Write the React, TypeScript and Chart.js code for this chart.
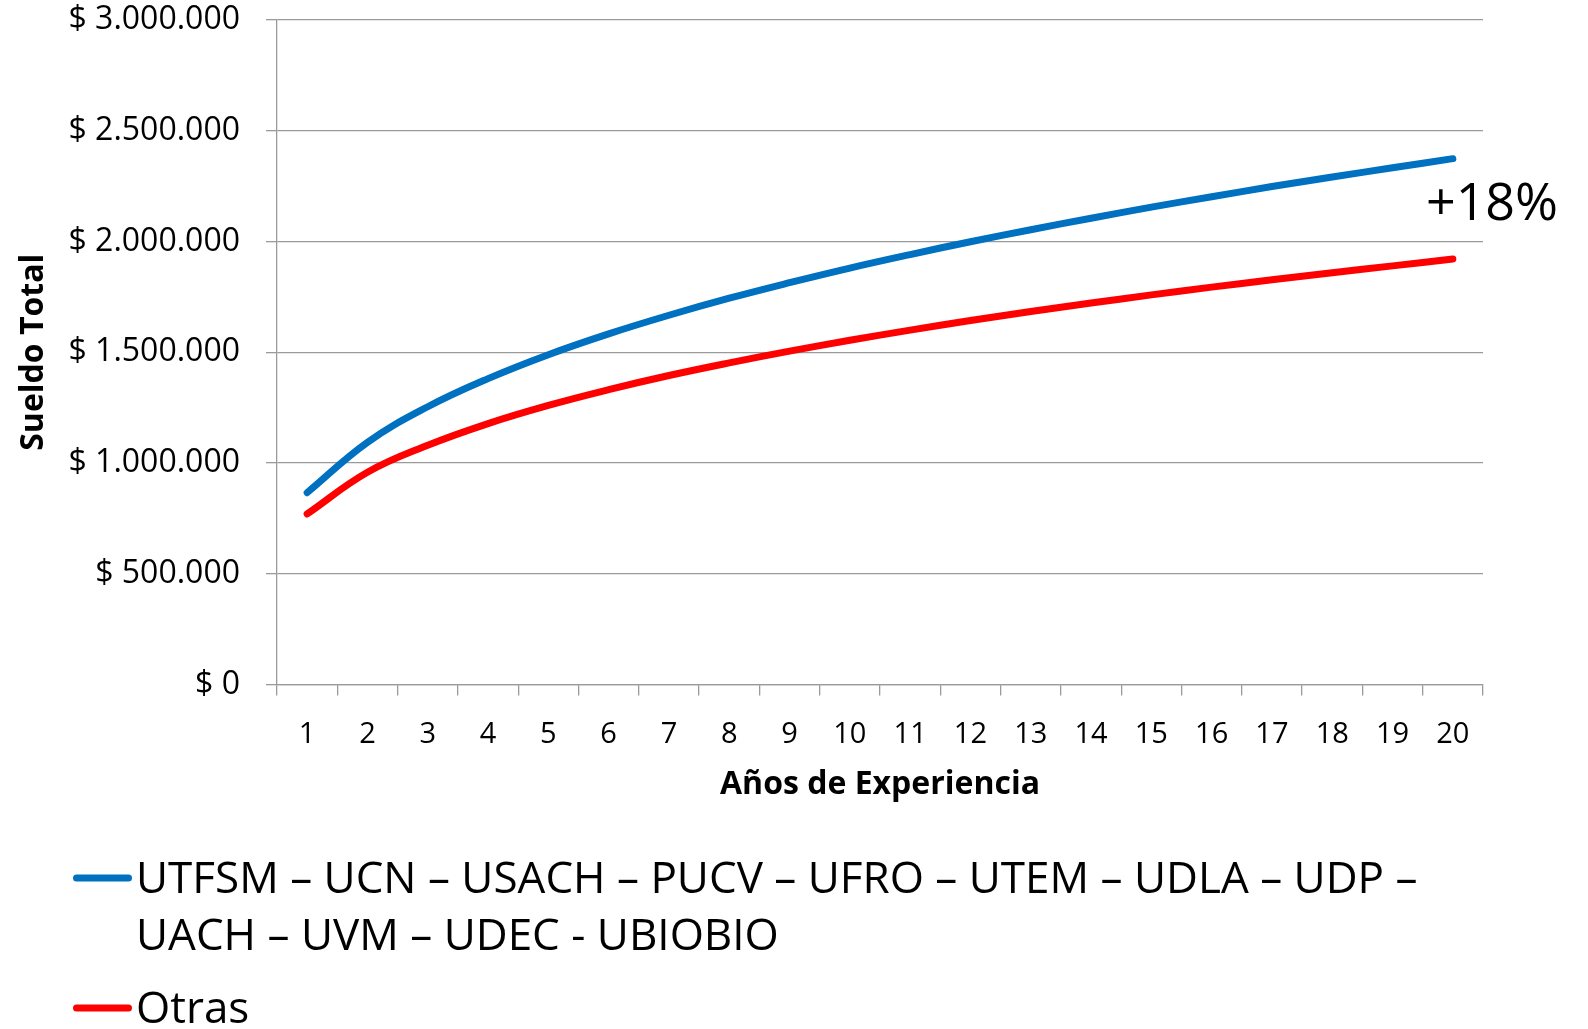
import { useEffect, useRef } from "react";
import { Chart, registerables } from "chart.js";

Chart.register(...registerables);

// ---- data ----
const years = ["1", "2", "3", "4", "5", "6", "7", "8", "9", "10", "11", "12", "13", "14", "15", "16", "17", "18", "19", "20"];
const grupoLabel = "UTFSM – UCN – USACH – PUCV – UFRO – UTEM – UDLA – UDP – UACH – UVM – UDEC - UBIOBIO";
const grupoValues = [866000, 1093000, 1254000, 1381000, 1489000, 1583000, 1667000, 1744000, 1814000, 1880000, 1941000, 1999000, 2053000, 2105000, 2155000, 2202000, 2248000, 2291000, 2333000, 2374000];
const otrasLabel = "Otras";
const otrasValues = [770000, 958000, 1080000, 1178000, 1260000, 1331000, 1395000, 1452000, 1505000, 1554000, 1600000, 1643000, 1684000, 1722000, 1759000, 1794000, 1827000, 1859000, 1890000, 1921000];
const yMin = 0;
const yMax = 3000000;
const yStep = 500000;
const xTitle = "Años de Experiencia";
const yTitle = "Sueldo Total";
const annotationText = "+18%";

const FONT = "'Open Sans', 'Noto Sans', sans-serif";
const GRID = "#9a9a9a";

const fmt = (v: number) => "$ " + String(Math.round(v)).replace(/\B(?=(\d{3})+(?!\d))/g, ".");

function wrapText(ctx: CanvasRenderingContext2D, text: string, maxWidth: number): string[] {
  const words = text.split(" ");
  const lines: string[] = [];
  let cur = "";
  for (const w of words) {
    const test = cur ? cur + " " + w : w;
    if (cur && ctx.measureText(test).width > maxWidth) {
      lines.push(cur);
      cur = w;
    } else {
      cur = test;
    }
  }
  if (cur) lines.push(cur);
  return lines;
}

const customLegend = {
  id: "customLegend",
  afterDraw(chart: any, _args: any, opts: any) {
    const ctx: CanvasRenderingContext2D = chart.ctx;
    ctx.save();
    ctx.font = `${opts.fontSize}px ${FONT}`;
    ctx.textAlign = "left";
    ctx.textBaseline = "alphabetic";
    let baseline = opts.firstBaseline;
    chart.data.datasets.forEach((ds: any) => {
      const lines = wrapText(ctx, ds.label, opts.maxWidth);
      ctx.strokeStyle = ds.borderColor;
      ctx.lineWidth = opts.sampleWidth;
      ctx.lineCap = "round";
      ctx.beginPath();
      ctx.moveTo(opts.sampleX0, baseline - opts.capMid);
      ctx.lineTo(opts.sampleX1, baseline - opts.capMid);
      ctx.stroke();
      ctx.fillStyle = "#000";
      lines.forEach((ln, i) => ctx.fillText(ln, opts.textX, baseline + i * opts.lineGap));
      baseline += (lines.length - 1) * opts.lineGap + opts.itemGap;
    });
    ctx.restore();
  },
};

const annotation = {
  id: "annotationText",
  afterDraw(chart: any, _args: any, opts: any) {
    const ctx: CanvasRenderingContext2D = chart.ctx;
    const area = chart.chartArea;
    ctx.save();
    ctx.font = `${opts.fontSize}px ${FONT}`;
    ctx.fillStyle = "#000";
    ctx.textAlign = "center";
    ctx.textBaseline = "alphabetic";
    ctx.fillText(opts.text, area.right + opts.dx, area.top + opts.dy);
    ctx.restore();
  },
};

export default function App() {
  const ref = useRef<HTMLCanvasElement | null>(null);

  useEffect(() => {
    document.body.style.margin = "0";
    const canvas = ref.current;
    if (!canvas) return;
    const chart = new Chart(canvas, {
      type: "line",
      data: {
        labels: years,
        datasets: [
          {
            label: grupoLabel,
            data: grupoValues,
            borderColor: "#0070C0",
            backgroundColor: "#0070C0",
            borderWidth: 7,
            borderCapStyle: "round",
            borderJoinStyle: "round",
            pointRadius: 0,
            tension: 0.4,
            fill: false,
          },
          {
            label: otrasLabel,
            data: otrasValues,
            borderColor: "#FF0000",
            backgroundColor: "#FF0000",
            borderWidth: 7,
            borderCapStyle: "round",
            borderJoinStyle: "round",
            pointRadius: 0,
            tension: 0.4,
            fill: false,
          },
        ],
      },
      options: {
        responsive: false,
        animation: false,
        layout: { padding: { top: 20, left: 0, right: 105, bottom: 224.5 } },
        plugins: {
          legend: { display: false },
          tooltip: { enabled: false },
          customLegend: {
            fontSize: 44,
            firstBaseline: 893,
            lineGap: 57,
            itemGap: 73,
            capMid: 15,
            sampleX0: 76.5,
            sampleX1: 128.5,
            sampleWidth: 7,
            textX: 136,
            maxWidth: 1330,
          },
          annotationText: { text: annotationText, fontSize: 52, dx: 9, dy: 200 },
        } as any,
        scales: {
          x: {
            offset: true,
            grid: {
              offset: true,
              drawOnChartArea: false,
              drawTicks: true,
              tickLength: 11,
              color: GRID,
              lineWidth: 1.3,
            },
            border: { display: true, color: GRID, width: 1.3 },
            ticks: {
              autoSkip: false,
              maxRotation: 0,
              padding: 22,
              color: "#000",
              font: { family: FONT, size: 29 },
            },
            title: {
              display: true,
              text: xTitle,
              color: "#000",
              font: { family: FONT, size: 32, weight: "bold" },
              padding: { top: 0, bottom: 0 },
            },
            afterFit: (scale: any) => {
              scale.height = 120;
              scale.paddingLeft = 0;
              scale.paddingRight = 0;
            },
          },
          y: {
            min: yMin,
            max: yMax,
            ticks: {
              stepSize: yStep,
              padding: 26,
              color: "#000",
              font: { family: FONT, size: 32 },
              callback: (v: any) => fmt(Number(v)),
            },
            grid: {
              drawOnChartArea: true,
              drawTicks: true,
              tickLength: 11,
              color: GRID,
              lineWidth: 1.3,
            },
            border: { display: true, color: GRID, width: 1.3 },
            title: {
              display: true,
              text: yTitle,
              color: "#000",
              font: { family: FONT, size: 32, weight: "bold" },
              padding: { top: 15, bottom: 0 },
            },
            afterFit: (scale: any) => {
              scale.width = 277;
              scale.paddingTop = 0;
              scale.paddingBottom = 0;
            },
          },
        },
      },
      plugins: [customLegend, annotation],
    });
    return () => chart.destroy();
  }, []);

  return (
    <div style={{ width: 1588, height: 1029, background: "#fff" }}>
      <canvas ref={ref} width={1588} height={1029} style={{ display: "block" }} />
    </div>
  );
}
